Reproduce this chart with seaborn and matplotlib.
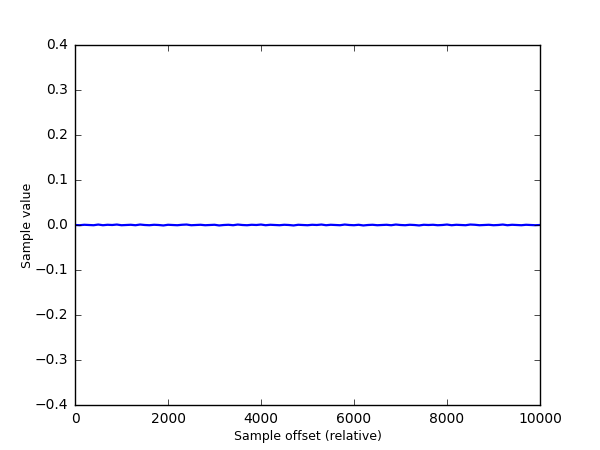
import numpy as np
import pandas as pd
import seaborn as sns
import matplotlib
matplotlib.use("Agg")
import matplotlib.pyplot as plt

# sample values (every 100 samples), all within ~±0.001 of zero
offsets = list(range(0, 10001, 100))
values = [
    0.0000, -0.0005, 0.0005, 0.0000, -0.0005, 0.0010, -0.0005, 0.0005, 0.0000, 0.0010,
    -0.0005, 0.0000, 0.0005, -0.0005, 0.0010, 0.0000, -0.0005, 0.0005, 0.0000, -0.0010,
    0.0005, 0.0000, -0.0005, 0.0005, 0.0010, -0.0005, 0.0000, 0.0005, -0.0005, 0.0000,
    0.0005, -0.0010, 0.0000, 0.0005, -0.0005, 0.0010, 0.0000, -0.0005, 0.0005, 0.0000,
    0.0010, -0.0005, 0.0005, 0.0000, -0.0005, 0.0005, 0.0000, -0.0010, 0.0005, 0.0000,
    -0.0005, 0.0005, 0.0000, 0.0010, -0.0005, 0.0005, 0.0000, -0.0005, 0.0010, 0.0000,
    -0.0005, 0.0005, -0.0010, 0.0000, 0.0005, -0.0005, 0.0000, 0.0005, -0.0005, 0.0010,
    0.0000, -0.0005, 0.0005, 0.0000, -0.0010, 0.0005, 0.0000, 0.0005, -0.0005, 0.0000,
    0.0010, -0.0005, 0.0005, 0.0000, -0.0005, 0.0010, 0.0005, -0.0005, 0.0000, 0.0005,
    -0.0005, 0.0000, 0.0010, -0.0005, 0.0005, 0.0000, -0.0005, 0.0005, 0.0000, -0.0005,
    0.0000,
]

df = pd.DataFrame({"offset": offsets, "value": values})

plt.style.use("classic")
plt.rcParams["figure.facecolor"] = "white"
plt.rcParams["savefig.facecolor"] = "white"
plt.rcParams["font.family"] = ["DejaVu Sans"]
plt.rcParams["font.size"] = 10

fig, ax = plt.subplots(figsize=(6, 4.5), dpi=100)
fig.subplots_adjust(left=0.125, right=0.9, bottom=0.1, top=0.9)

sns.lineplot(data=df, x="offset", y="value", color="blue", linewidth=1.6, ax=ax)

ax.set_xlim(0, 10000)
ax.set_ylim(-0.4, 0.4)
ax.set_xticks([0, 2000, 4000, 6000, 8000, 10000])
ax.set_yticks(np.round(np.arange(-0.4, 0.41, 0.1), 1))
ax.tick_params(direction="in", top=True, right=True, labelsize=10, pad=5)
ax.set_xlabel("Sample offset (relative)", fontsize=9, labelpad=3)
ax.set_ylabel("Sample value", fontsize=9, labelpad=0)

fig.savefig("out.png", dpi=100)
